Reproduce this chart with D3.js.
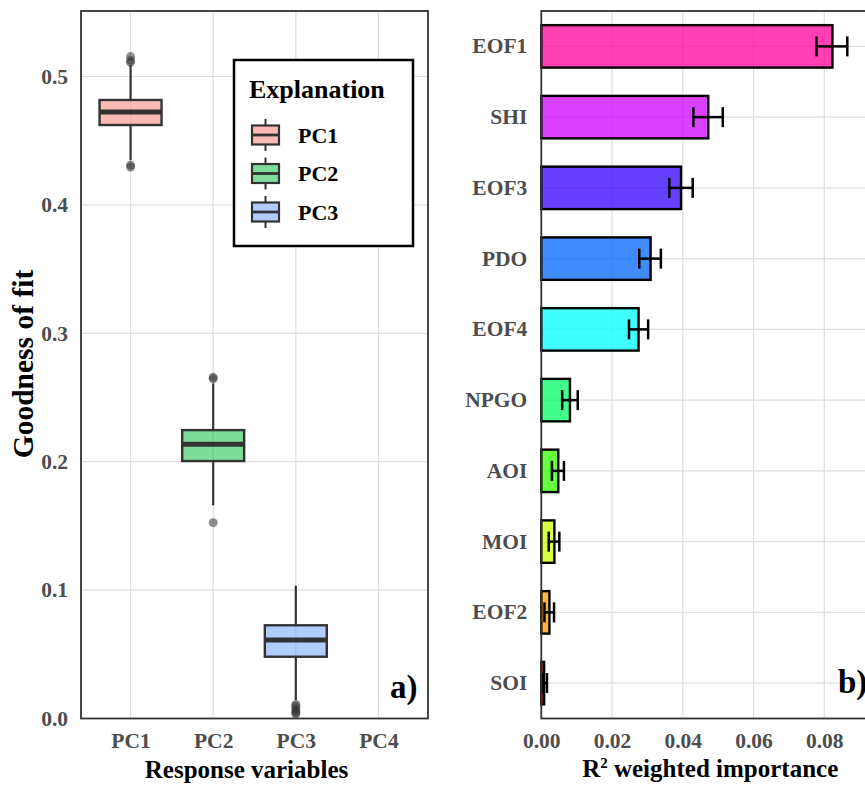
<!DOCTYPE html>
<html lang="en">
<head>
    <meta charset="UTF-8">
    <title>Goodness of fit and R2 importance</title>
    <script src="https://d3js.org/d3.v7.min.js"></script>
    <style>
        body { margin: 0; background: #fff; }
        text { font-family: "Liberation Serif", "Times New Roman", serif; font-weight: bold; }
    </style>
</head>
<body>
    <svg id="chart" width="865" height="787"></svg>

    <script>
        // ---- panel a) box plot summaries ----
        var responses = ["PC1", "PC2", "PC3", "PC4"];
        var boxNames  = ["PC1", "PC2", "PC3"];
        var boxColors = ["#F8766D", "#00BA38", "#619CFF"];
        var boxLow    = [0.435, 0.166, 0.0144];   // lower whisker
        var boxQ1     = [0.4622, 0.2005, 0.0481];
        var boxMedian = [0.4723, 0.2135, 0.0611];
        var boxQ3     = [0.4817, 0.2246, 0.0726];
        var boxHigh   = [0.509, 0.261, 0.1034];   // upper whisker
        var boxOutliers = [
            [0.5155, 0.5125, 0.511, 0.431, 0.4295],
            [0.2657, 0.2645, 0.1525],
            [0.011, 0.0095, 0.0075, 0.006, 0.0045, 0.0035]
        ];
        var yTicksA = [0.0, 0.1, 0.2, 0.3, 0.4, 0.5];

        // ---- panel b) weighted importance ----
        var predictors = ["EOF1", "SHI", "EOF3", "PDO", "EOF4", "NPGO", "AOI", "MOI", "EOF2", "SOI"];
        var importance = [0.0823, 0.0472, 0.0395, 0.0309, 0.0275, 0.0081, 0.0048, 0.0037, 0.0023, 0.0008];
        var errLow     = [0.0778, 0.0430, 0.0362, 0.0277, 0.0248, 0.0059, 0.0030, 0.0021, 0.0009, 0.0002];
        var errHigh    = [0.0865, 0.0513, 0.0428, 0.0338, 0.0302, 0.0103, 0.0064, 0.0051, 0.0036, 0.0016];
        var barColors  = ["#FF0099", "#CC00FF", "#3300FF", "#0066FF", "#00FFFF",
                          "#00FF66", "#33FF00", "#CCFF00", "#FF9900", "#FF0000"];
        var xTicksB = [0.00, 0.02, 0.04, 0.06, 0.08];

        var svg = d3.select("#chart");
        var gridColor = "#DEDEDE", frameColor = "#333333", tickColor = "#4D4D4D";

        // ================= panel a =================
        var aLeft = 81, aRight = 428, pTop = 11, pBottom = 718.5;
        var xA = d3.scalePoint().domain(responses).range([aLeft, aRight]).padding(0.6);
        var yA = d3.scaleLinear().domain([0, 0.551]).range([pBottom, pTop]);

        var gA = svg.append("g");
        gA.selectAll(".hgrid").data(yTicksA).join("line")
            .attr("x1", aLeft).attr("x2", aRight)
            .attr("y1", d => yA(d)).attr("y2", d => yA(d))
            .attr("stroke", gridColor).attr("stroke-width", 1.2);
        gA.selectAll(".vgrid").data(responses).join("line")
            .attr("x1", d => xA(d)).attr("x2", d => xA(d))
            .attr("y1", pTop).attr("y2", pBottom)
            .attr("stroke", gridColor).attr("stroke-width", 1.2);

        var boxW = xA.step() * 0.75;
        var boxes = boxNames.map((n, i) => ({
            name: n, color: boxColors[i], low: boxLow[i], q1: boxQ1[i], med: boxMedian[i],
            q3: boxQ3[i], high: boxHigh[i], out: boxOutliers[i]
        }));

        var bx = gA.selectAll(".box").data(boxes).join("g");
        bx.append("line")
            .attr("x1", d => xA(d.name)).attr("x2", d => xA(d.name))
            .attr("y1", d => yA(d.high)).attr("y2", d => yA(d.q3))
            .attr("stroke", frameColor).attr("stroke-width", 2.2);
        bx.append("line")
            .attr("x1", d => xA(d.name)).attr("x2", d => xA(d.name))
            .attr("y1", d => yA(d.q1)).attr("y2", d => yA(d.low))
            .attr("stroke", frameColor).attr("stroke-width", 2.2);
        bx.append("rect")
            .attr("x", d => xA(d.name) - boxW / 2).attr("width", boxW)
            .attr("y", d => yA(d.q3)).attr("height", d => yA(d.q1) - yA(d.q3))
            .attr("fill", d => d.color).attr("fill-opacity", 0.5)
            .attr("stroke", frameColor).attr("stroke-width", 2.4);
        bx.append("line")
            .attr("x1", d => xA(d.name) - boxW / 2).attr("x2", d => xA(d.name) + boxW / 2)
            .attr("y1", d => yA(d.med)).attr("y2", d => yA(d.med))
            .attr("stroke", frameColor).attr("stroke-width", 5);
        bx.selectAll("circle").data(d => d.out.map(v => ({ name: d.name, v: v }))).join("circle")
            .attr("cx", d => xA(d.name)).attr("cy", d => yA(d.v)).attr("r", 4.5)
            .attr("fill", frameColor).attr("fill-opacity", 0.55);

        gA.append("rect").attr("x", aLeft).attr("y", pTop)
            .attr("width", aRight - aLeft).attr("height", pBottom - pTop)
            .attr("fill", "none").attr("stroke", frameColor).attr("stroke-width", 1.8);

        // axes a
        var axYA = gA.append("g").attr("transform", `translate(${aLeft},0)`)
            .call(d3.axisLeft(yA).tickValues(yTicksA).tickSize(0).tickPadding(13).tickFormat(d3.format(".1f")));
        var axXA = gA.append("g").attr("transform", `translate(0,${pBottom})`)
            .call(d3.axisBottom(xA).tickSize(0).tickPadding(14));
        [axYA, axXA].forEach(ax => {
            ax.select(".domain").remove();
            ax.selectAll("text").attr("font-size", 21.5).attr("fill", tickColor)
                .attr("font-family", "Liberation Serif").attr("font-weight", "bold");
        });

        gA.append("text").attr("transform", "translate(33,364) rotate(-90)")
            .attr("text-anchor", "middle").attr("font-size", 29.5).text("Goodness of fit");
        gA.append("text").attr("x", (aLeft + aRight) / 2 - 8).attr("y", 778)
            .attr("text-anchor", "middle").attr("font-size", 25).text("Response variables");
        gA.append("text").attr("x", 390).attr("y", 698).attr("font-size", 33).text("a)");

        // legend
        var lg = gA.append("g");
        lg.append("rect").attr("x", 234).attr("y", 60).attr("width", 179).attr("height", 186)
            .attr("fill", "#fff").attr("stroke", "#000").attr("stroke-width", 2.5);
        lg.append("text").attr("x", 249).attr("y", 98).attr("font-size", 26).text("Explanation");
        var keyY = d3.scalePoint().domain(boxNames).range([135, 212]);
        var keys = lg.selectAll(".key").data(boxes).join("g")
            .attr("transform", d => `translate(265.5,${keyY(d.name)})`);
        keys.append("line").attr("y1", -16).attr("y2", 16)
            .attr("stroke", frameColor).attr("stroke-width", 2);
        keys.append("rect").attr("x", -13.5).attr("y", -9.5).attr("width", 27).attr("height", 19)
            .attr("fill", "#fff");
        keys.append("rect").attr("x", -13.5).attr("y", -9.5).attr("width", 27).attr("height", 19)
            .attr("fill", d => d.color).attr("fill-opacity", 0.5)
            .attr("stroke", frameColor).attr("stroke-width", 2.2);
        keys.append("line").attr("x1", -13.5).attr("x2", 13.5)
            .attr("stroke", frameColor).attr("stroke-width", 2.8);
        keys.append("text").attr("x", 32.5).attr("y", 7.5).attr("font-size", 22).text(d => d.name);

        // ================= panel b =================
        var bLeft = 541.3;
        var xB = d3.scaleLinear().domain([0, 0.0955]).range([bLeft, bLeft + 0.0955 * 3537.5]);
        var yB = d3.scaleBand().domain(predictors).range([pTop, pBottom]);
        var bRight = xB(0.0955);

        var gB = svg.append("g");
        gB.selectAll(".vgrid").data(xTicksB).join("line")
            .attr("x1", d => xB(d)).attr("x2", d => xB(d))
            .attr("y1", pTop).attr("y2", pBottom)
            .attr("stroke", gridColor).attr("stroke-width", 1.2);
        gB.selectAll(".hgrid").data(predictors).join("line")
            .attr("x1", bLeft).attr("x2", bRight)
            .attr("y1", d => yB(d) + yB.bandwidth() / 2).attr("y2", d => yB(d) + yB.bandwidth() / 2)
            .attr("stroke", gridColor).attr("stroke-width", 1.2);

        var bars = predictors.map((p, i) => ({
            name: p, v: importance[i], lo: errLow[i], hi: errHigh[i], color: barColors[i]
        }));
        var barH = yB.bandwidth() * 0.6;
        gB.selectAll(".bar").data(bars).join("rect")
            .attr("x", xB(0)).attr("width", d => xB(d.v) - xB(0))
            .attr("y", d => yB(d.name) + (yB.bandwidth() - barH) / 2).attr("height", barH)
            .attr("fill", d => d.color).attr("fill-opacity", 0.75)
            .attr("stroke", "#000").attr("stroke-width", 2.4);

        var eb = gB.selectAll(".err").data(bars).join("g")
            .attr("transform", d => `translate(0,${yB(d.name) + yB.bandwidth() / 2})`);
        eb.append("line").attr("x1", d => xB(d.lo)).attr("x2", d => xB(d.hi))
            .attr("stroke", "#000").attr("stroke-width", 2.5);
        eb.append("line").attr("x1", d => xB(d.lo)).attr("x2", d => xB(d.lo))
            .attr("y1", -10).attr("y2", 10).attr("stroke", "#000").attr("stroke-width", 2.5);
        eb.append("line").attr("x1", d => xB(d.hi)).attr("x2", d => xB(d.hi))
            .attr("y1", -10).attr("y2", 10).attr("stroke", "#000").attr("stroke-width", 2.5);

        gB.append("rect").attr("x", bLeft).attr("y", pTop)
            .attr("width", bRight - bLeft).attr("height", pBottom - pTop)
            .attr("fill", "none").attr("stroke", frameColor).attr("stroke-width", 1.8);

        var axYB = gB.append("g").attr("transform", `translate(${bLeft},0)`)
            .call(d3.axisLeft(yB).tickSize(0).tickPadding(14));
        var axXB = gB.append("g").attr("transform", `translate(0,${pBottom})`)
            .call(d3.axisBottom(xB).tickValues(xTicksB).tickSize(0).tickPadding(14).tickFormat(d3.format(".2f")));
        [axYB, axXB].forEach(ax => {
            ax.select(".domain").remove();
            ax.selectAll("text").attr("font-size", 21.5).attr("fill", tickColor)
                .attr("font-family", "Liberation Serif").attr("font-weight", "bold");
        });

        var rTitle = gB.append("text").attr("x", (bLeft + bRight) / 2).attr("y", 777)
            .attr("text-anchor", "middle").attr("font-size", 25);
        rTitle.append("tspan").text("R");
        rTitle.append("tspan").attr("font-size", 15).attr("dy", -9).text("2");
        rTitle.append("tspan").attr("dy", 9).text(" weighted importance");
        gB.append("text").attr("x", 838).attr("y", 693).attr("font-size", 33).text("b)");
    </script>
</body>
</html>
